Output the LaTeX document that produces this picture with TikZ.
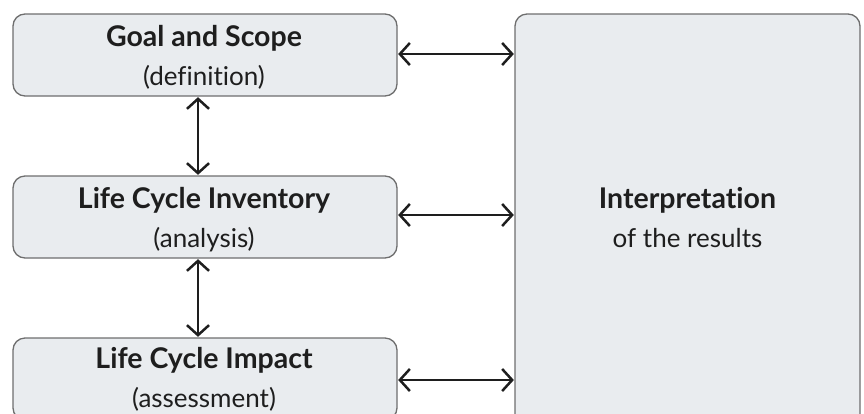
\documentclass[tikz,border=0pt]{standalone}
\usepackage{fontspec}
\setmainfont{Lato}[Ligatures=CommonOff]
\usetikzlibrary{arrows.meta}
\definecolor{boxfill}{HTML}{E9ECEF}
\definecolor{boxline}{HTML}{6E6E6E}
\definecolor{ink}{HTML}{1E1E1E}
\tikzset{
  x=1pt,y=-1pt,
  box/.style={draw=boxline,fill=boxfill,line width=1.3pt,rounded corners=12pt,inner sep=0pt},
  title/.style={font=\bfseries\fontsize{28.5}{32}\selectfont,text=ink,inner sep=0pt,anchor=base},
  sub/.style={font=\fontsize{26}{30}\selectfont,text=ink,inner sep=0pt,anchor=base},
  link/.style={draw=ink,line width=2.5pt,{Straight Barb[length=10pt,width=22pt,line width=2.5pt]}-{Straight Barb[length=10pt,width=22pt,line width=2.5pt]},shorten <=0.5pt,shorten >=0.5pt}
}
\begin{document}
\begin{tikzpicture}
\useasboundingbox (0,0) rectangle (864,413);
\clip (0,0) rectangle (864,413);
\node[box,minimum width=384pt,minimum height=82pt] (goal) at (205,55) {};
\node[box,minimum width=384pt,minimum height=82pt] (inv) at (205,217) {};
\node[box,minimum width=384pt,minimum height=82pt] (imp) at (205,379) {};
\node[box,minimum width=345pt,minimum height=416pt] (interp) at (687.5,222) {};
\node[title] (t1) at (204,46) {Goal and Scope};
\node[sub] (s1) at (204,85) {(definition)};
\node[title] (t2) at (204,208) {Life Cycle Inventory};
\node[sub] (s2) at (204,247) {(analysis)};
\node[title] (t3) at (204,368) {Life Cycle Impact};
\node[sub] (s3) at (204,407) {(assessment)};
\node[title] (t4) at (687.5,208) {Interpretation};
\node[sub] (s4) at (687.5,247) {of the results};
\coordinate (ga) at (goal.east |- 0,54);
\coordinate (ia) at (interp.west |- 0,54);
\coordinate (gb) at (inv.east |- 0,215);
\coordinate (ib) at (interp.west |- 0,215);
\coordinate (gc) at (imp.east |- 0,380);
\coordinate (ic) at (interp.west |- 0,380);
\draw[link] (ga) -- (ia);
\draw[link] (gb) -- (ib);
\draw[link] (gc) -- (ic);
\draw[link] (goal.south -| 198,0) -- (inv.north -| 198,0);
\draw[link] (inv.south -| 198,0) -- (imp.north -| 198,0);
\end{tikzpicture}
\end{document}
